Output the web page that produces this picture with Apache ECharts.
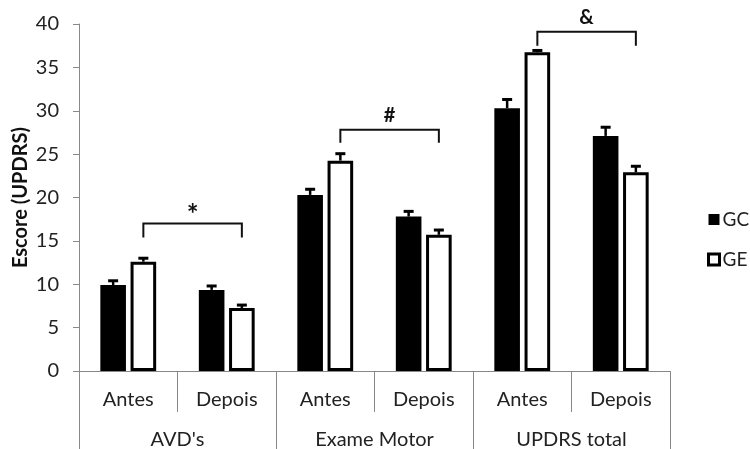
<!DOCTYPE html>
<html>
<head>
<meta charset="utf-8">
<script src="https://cdn.jsdelivr.net/npm/echarts@6/dist/echarts.min.js"></script>
<style>
  html, body { margin: 0; padding: 0; background: #fff; }
  #chart { width: 750px; height: 449px; }
</style>
</head>
<body>
<div id="chart"></div>
<script>
// dados
const momentos = ['Antes', 'Depois', 'Antes', 'Depois', 'Antes', 'Depois'];
const grupos = ["AVD's", 'Exame Motor', 'UPDRS total'];
const gc = [9.9, 9.35, 20.3, 17.8, 30.3, 27.1];
const ge = [12.6, 7.25, 24.25, 15.7, 36.75, 22.9];
const gcErr = [0.5, 0.45, 0.65, 0.6, 1.0, 1.0];
const geErr = [0.4, 0.35, 0.8, 0.55, 0.2, 0.7];
// colchetes: [categoria inicial, categoria final, altura da linha, altura das pernas, marca]
const colchetes = [
    [0, 1, 17.0, 15.4, '*'],
    [2, 3, 27.8, 26.3, '#'],
    [4, 5, 39.1, 37.5, '&']
];

window.onload = init;

function init() {
    let grafico = echarts.init(document.getElementById('chart'));
    const fonte = 'Lato';
    const larg = 0.26, gap = 0.18;
    const desloc = (larg + larg * gap) / 2;

    function erroSerie(valores, erros, lado) {
        return {
            type: 'custom',
            data: valores.map((v, i) => [i, v, erros[i]]),
            encode: { x: 0, y: 1 },
            z: 5,
            silent: true,
            renderItem: function (params, api) {
                let banda = api.size([1, 0])[0];
                let base = api.coord([api.value(0), api.value(1)]);
                let topo = api.coord([api.value(0), api.value(1) + api.value(2)]);
                let x = base[0] + lado * desloc * banda;
                return {
                    type: 'group',
                    children: [
                        { type: 'line', shape: { x1: x, y1: base[1], x2: x, y2: topo[1] }, style: { stroke: '#000', lineWidth: 2.5 } },
                        { type: 'line', shape: { x1: x - 5, y1: topo[1], x2: x + 5, y2: topo[1] }, style: { stroke: '#000', lineWidth: 3 } }
                    ]
                };
            }
        };
    }

    let options = {
        animation: false,
        backgroundColor: '#fff',
        grid: { left: 79, right: 80, top: 24, bottom: 78, containLabel: false, outerBoundsMode: 'none' },
        legend: {
            data: [
                { name: 'GC' },
                { name: 'GE', itemStyle: { borderWidth: 3 } }
            ],
            orient: 'vertical',
            left: 702,
            top: 205,
            icon: 'rect',
            itemWidth: 11,
            itemHeight: 11,
            itemGap: 21,
            textStyle: { fontFamily: fonte, fontSize: 19, color: '#222', padding: [0, 0, 0, -2] }
        },
        xAxis: [
            {
                type: 'category',
                data: momentos,
                axisLine: { lineStyle: { color: '#888', width: 1 } },
                axisTick: { show: true, interval: 0, length: 41, lineStyle: { color: '#888' } },
                axisLabel: { interval: 0, margin: 19, fontFamily: fonte, fontSize: 20, color: '#222' }
            },
            {
                type: 'category',
                data: grupos,
                position: 'bottom',
                axisLine: { show: false },
                axisTick: { show: true, interval: 0, length: 78, lineStyle: { color: '#888' } },
                axisLabel: { interval: 0, margin: 59, fontFamily: fonte, fontSize: 20, color: '#222' }
            }
        ],
        yAxis: {
            type: 'value',
            min: 0,
            max: 40,
            interval: 5,
            name: 'Escore (UPDRS)',
            nameLocation: 'middle',
            nameGap: 48,
            nameMoveOverlap: false,
            nameTextStyle: { fontFamily: fonte, fontSize: 20, fontWeight: 'bold', color: '#111' },
            splitLine: { show: false },
            axisLine: { show: true, lineStyle: { color: '#888', width: 1 } },
            axisTick: { show: true, length: 6, lineStyle: { color: '#888' } },
            axisLabel: { margin: 20, fontFamily: fonte, fontSize: 20, color: '#222' }
        },
        series: [
            {
                name: 'GC',
                type: 'bar',
                data: gc,
                barWidth: '26%',
                barGap: '18%',
                itemStyle: { color: '#000' }
            },
            {
                name: 'GE',
                type: 'bar',
                data: ge,
                barWidth: '26%',
                itemStyle: { color: '#fff', borderColor: '#000', borderWidth: 3 }
            },
            erroSerie(gc, gcErr, -1),
            erroSerie(ge, geErr, 1),
            {
                type: 'custom',
                data: colchetes,
                encode: { x: 0, y: 2 },
                z: 6,
                silent: true,
                renderItem: function (params, api) {
                    let banda = api.size([1, 0])[0];
                    let a = api.coord([api.value(0), api.value(2)]);
                    let b = api.coord([api.value(1), api.value(2)]);
                    let perna = api.coord([api.value(0), api.value(3)]);
                    let x1 = a[0] + desloc * banda;
                    let x2 = b[0] + desloc * banda;
                    let marca = colchetes[params.dataIndex][4];
                    let estrela = marca === '*';
                    return {
                        type: 'group',
                        children: [
                            {
                                type: 'polyline',
                                shape: { points: [[x1, perna[1]], [x1, a[1]], [x2, a[1]], [x2, perna[1]]] },
                                style: { stroke: '#111', lineWidth: 2, fill: null }
                            },
                            {
                                type: 'text',
                                style: {
                                    text: marca, x: (x1 + x2) / 2, y: a[1] - (estrela ? 9 : 14),
                                    align: 'center', verticalAlign: 'middle',
                                    fontFamily: fonte, fontSize: estrela ? 28 : 20, fontWeight: 'bold', fill: '#111'
                                }
                            }
                        ]
                    };
                }
            }
        ]
    };

    grafico.setOption(options);
}
</script>
</body>
</html>
